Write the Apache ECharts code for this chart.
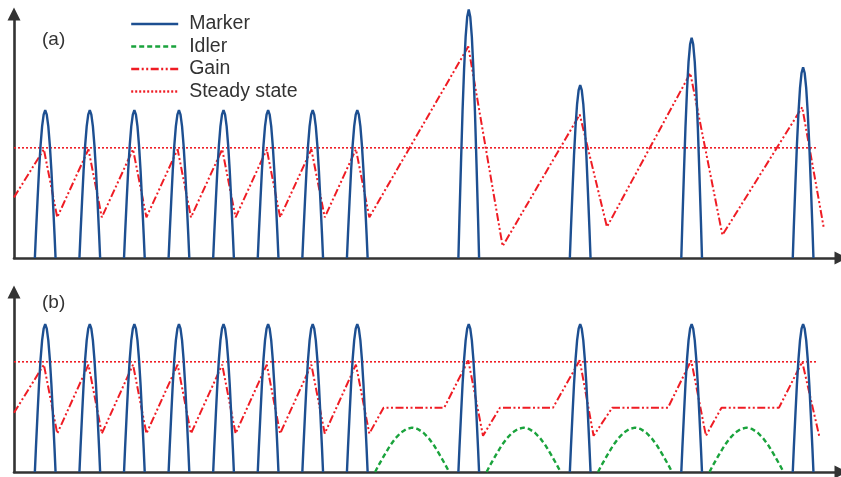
<!DOCTYPE html>
<html>
<head>
<meta charset="utf-8">
<script src="https://cdn.jsdelivr.net/npm/echarts@6/dist/echarts.min.js"></script>
<style>html,body{margin:0;padding:0;background:#fff}#chart{width:841px;height:477px}</style>
</head>
<body>
<div id="chart"></div>
<script>
// ---- data (time in pulse periods, amplitude normalised to marker peak) ----
const seriesNames = ['Marker', 'Idler', 'Gain', 'Steady state'];
const panelLabels = ['(a)', '(b)'];

const pulseCentersA = [0.7, 1.7, 2.7, 3.7, 4.7, 5.7, 6.7, 7.7, 10.2, 12.7, 15.2, 17.7];
const pulsePeaksA   = [1, 1, 1, 1, 1, 1, 1, 1, 1.68, 1.17, 1.49, 1.29];
const pulseCentersB = [0.7, 1.7, 2.7, 3.7, 4.7, 5.7, 6.7, 7.7, 10.2, 12.7, 15.2, 17.7];
const pulsePeaksB   = [1, 1, 1, 1, 1, 1, 1, 1, 1, 1, 1, 1];
const pulseHalfWidth = 0.232;

const idlerCentersB = [8.93, 11.43, 13.93, 16.43];
const idlerPeaksB   = [0.30, 0.30, 0.30, 0.30];
const idlerHalfWidth = 0.83;

// arch profile read from the drawn pulses (fraction of half width -> fraction of peak)
const shapeFrac  = [-1, -0.9, -0.75, -0.6, -0.45, -0.3, -0.15, 0, 0.15, 0.3, 0.45, 0.6, 0.75, 0.9, 1];
const shapeLevel = [0, 0.16, 0.38, 0.59, 0.76, 0.89, 0.97, 1, 0.97, 0.89, 0.76, 0.59, 0.38, 0.16, 0];

const gainTimeA  = [0, 0.67, 0.97, 1.67, 1.97, 2.67, 2.97, 3.67, 3.97, 4.67, 4.97, 5.67, 5.97, 6.67, 6.97, 7.67, 7.97, 10.19, 10.96, 12.69, 13.30, 15.17, 15.89, 17.68, 18.16];
const gainValueA = [0.41, 0.735, 0.275, 0.735, 0.275, 0.735, 0.275, 0.735, 0.275, 0.735, 0.275, 0.735, 0.275, 0.735, 0.275, 0.735, 0.275, 1.43, 0.08, 0.97, 0.21, 1.25, 0.155, 1.02, 0.21];

const gainTimeB  = [0, 0.67, 0.97, 1.67, 1.97, 2.67, 2.97, 3.67, 3.97, 4.67, 4.97, 5.67, 5.97, 6.67, 6.97, 7.67, 7.97, 8.29, 9.65, 10.19, 10.52, 10.90, 12.09, 12.69, 13.00, 13.42, 14.67, 15.19, 15.52, 15.87, 17.16, 17.68, 18.06];
const gainValueB = [0.40, 0.726, 0.26, 0.726, 0.26, 0.726, 0.26, 0.726, 0.26, 0.726, 0.26, 0.726, 0.26, 0.726, 0.26, 0.726, 0.26, 0.435, 0.435, 0.755, 0.245, 0.435, 0.435, 0.755, 0.245, 0.435, 0.435, 0.755, 0.245, 0.435, 0.435, 0.745, 0.245];

const steadyTime  = [0, 18.03];
const steadyValue = 0.745;

const timeMax = 18.55;
const ampMaxA = 1.65;
const ampMaxB = 1.217;

// ---- build series data ----
function arches(centers, peaks, halfWidth) {
  const out = [];
  centers.forEach((c, i) => {
    if (i > 0) out.push([null, null]);
    shapeFrac.forEach((f, k) => out.push([c + f * halfWidth, peaks[i] * shapeLevel[k]]));
  });
  return out;
}
const zip = (t, v) => t.map((x, i) => [x, v[i]]);

const C_MARKER = '#1d4f91';
const C_IDLER = '#1aa33c';
const C_RED = '#ef1c24';
const AXIS = '#333333';
const FONT = '"Liberation Sans", Arial, sans-serif';

function makeSeries(idx, markerData, gainData, idlerData) {
  return [
    { name: 'Marker', type: 'line', xAxisIndex: idx, yAxisIndex: idx, data: markerData,
      symbol: 'none', clip: false, connectNulls: false, z: 5,
      lineStyle: { color: C_MARKER, width: 2.4 }, itemStyle: { color: C_MARKER } },
    { name: 'Gain', type: 'line', xAxisIndex: idx, yAxisIndex: idx, data: gainData,
      symbol: 'none', clip: false, z: 4,
      lineStyle: { color: C_RED, width: 2, type: [8, 2.5, 2, 2.5, 2, 2.5] }, itemStyle: { color: C_RED } },
    { name: 'Steady state', type: 'line', xAxisIndex: idx, yAxisIndex: idx,
      data: steadyTime.map(t => [t, steadyValue]),
      symbol: 'none', clip: false, z: 3,
      lineStyle: { color: C_RED, width: 1.6, type: [2, 2] }, itemStyle: { color: C_RED } },
    { name: 'Idler', type: 'line', xAxisIndex: idx, yAxisIndex: idx, data: idlerData,
      symbol: 'none', clip: false, connectNulls: false, z: 3,
      lineStyle: { color: C_IDLER, width: 2.4, type: [5, 3] }, itemStyle: { color: C_IDLER } }
  ];
}

const axisLine = { show: true, onZero: false, symbol: ['none', 'triangle'], symbolSize: [13, 13],
                   lineStyle: { color: AXIS, width: 2.6 } };
const hidden = { axisTick: { show: false }, axisLabel: { show: false }, splitLine: { show: false } };

const chart = echarts.init(document.getElementById('chart'), null, { renderer: 'canvas' });
chart.setOption({
  animation: false,
  backgroundColor: '#ffffff',
  grid: [
    { left: 14, right: 0, top: 14, height: 244 },
    { left: 14, right: 0, top: 292, height: 180 }
  ],
  xAxis: [
    Object.assign({ type: 'value', gridIndex: 0, min: 0, max: timeMax, axisLine: axisLine }, hidden),
    Object.assign({ type: 'value', gridIndex: 1, min: 0, max: timeMax, axisLine: axisLine }, hidden)
  ],
  yAxis: [
    Object.assign({ type: 'value', gridIndex: 0, min: 0, max: ampMaxA, axisLine: axisLine }, hidden),
    Object.assign({ type: 'value', gridIndex: 1, min: 0, max: ampMaxB, axisLine: axisLine }, hidden)
  ],
  legend: {
    data: seriesNames,
    orient: 'vertical',
    left: 125,
    top: 9,
    itemWidth: 47,
    itemHeight: 14,
    itemGap: 2.5,
    selectedMode: false,
    itemStyle: { opacity: 0 },
    lineStyle: { width: 2.4 },
    textStyle: { color: '#333', fontSize: 19.5, fontFamily: FONT,
                 lineHeight: 20, padding: [0, 0, 0, 6] }
  },
  graphic: [
    { type: 'text', left: 42, top: 30, style: { text: panelLabels[0], fill: '#333',
      font: '19px ' + FONT } },
    { type: 'text', left: 42, top: 293, style: { text: panelLabels[1], fill: '#333',
      font: '19px ' + FONT } }
  ],
  series: [
    ...makeSeries(0, arches(pulseCentersA, pulsePeaksA, pulseHalfWidth), zip(gainTimeA, gainValueA), []),
    ...makeSeries(1, arches(pulseCentersB, pulsePeaksB, pulseHalfWidth), zip(gainTimeB, gainValueB),
                  arches(idlerCentersB, idlerPeaksB, idlerHalfWidth))
  ]
});
</script>
</body>
</html>
